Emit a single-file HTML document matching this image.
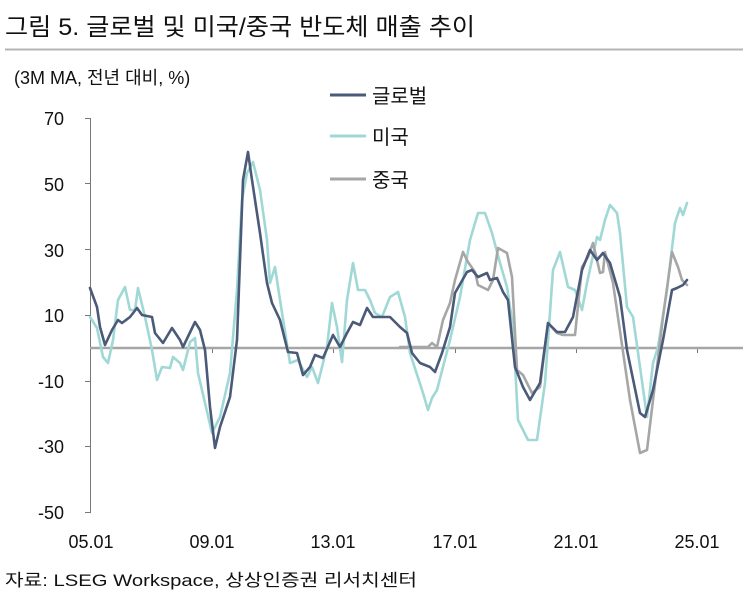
<!DOCTYPE html>
<html><head><meta charset="utf-8"><style>
body{margin:0;background:#fff}
svg text{font-family:"Liberation Sans","Noto Sans CJK KR",sans-serif;fill:#111}
</style></head><body>
<svg width="743" height="596" xmlns="http://www.w3.org/2000/svg">
<text x="5" y="35" font-size="24" textLength="470" lengthAdjust="spacingAndGlyphs">그림 5. 글로벌 및 미국/중국 반도체 매출 추이</text>
<line x1="5" y1="49.5" x2="743" y2="49.5" stroke="#b4b4b4" stroke-width="2"/>
<text x="14" y="84" font-size="18">(3M MA, 전년 대비, %)</text>
<g font-size="18" text-anchor="end">
<text x="64" y="125">70</text><text x="64" y="191">50</text><text x="64" y="257">30</text>
<text x="64" y="322">10</text><text x="64" y="388">-10</text><text x="64" y="453">-30</text><text x="64" y="519">-50</text>
</g>
<g stroke="#777" stroke-width="1">
<line x1="90.5" y1="118" x2="90.5" y2="513"/>
<line x1="85" y1="118.5" x2="90" y2="118.5"/><line x1="85" y1="183.5" x2="90" y2="183.5"/>
<line x1="85" y1="249.5" x2="90" y2="249.5"/><line x1="85" y1="315.5" x2="90" y2="315.5"/>
<line x1="85" y1="381.5" x2="90" y2="381.5"/><line x1="85" y1="446.5" x2="90" y2="446.5"/>
<line x1="85" y1="512.5" x2="90" y2="512.5"/>
<line x1="212.5" y1="348" x2="212.5" y2="353"/><line x1="333.5" y1="348" x2="333.5" y2="353"/>
<line x1="455.5" y1="348" x2="455.5" y2="353"/><line x1="576.5" y1="348" x2="576.5" y2="353"/>
<line x1="697.5" y1="348" x2="697.5" y2="353"/>
</g>
<line x1="90" y1="348" x2="743" y2="348" stroke="#a6a6a6" stroke-width="2.5"/>
<g font-size="18" text-anchor="middle">
<text x="91" y="548">05.01</text><text x="212" y="548">09.01</text><text x="333" y="548">13.01</text>
<text x="455" y="548">17.01</text><text x="576" y="548">21.01</text><text x="697" y="548">25.01</text>
</g>
<g fill="none" stroke-width="2.6" stroke-linejoin="round" stroke-linecap="round">
<polyline stroke="#a0d8d6" points="90,317 97,328 103,357 108,363 113,340 118,300 125,287 130,310 135,310 138,288 145,317 152,350 157,380 162,367 170,368 173,357 180,363 183,370 190,342 195,338 198,373 205,403 212,433 220,417 230,373 237,290 242,200 247,173 253,162 260,190 267,240 270,283 275,267 280,300 290,363 298,360 307,377 312,367 318,383 327,347 332,303 337,327 342,362 347,300 353,263 358,290 365,290 370,300 375,313 382,317 390,297 398,292 405,317 410,353 423,393 428,410 432,398 437,390 450,340 460,297 470,240 478,213 485,213 492,233 500,263 507,287 513,327 518,420 528,440 537,440 545,383 553,270 560,252 568,287 575,290 582,310 587,283 597,237 600,240 605,220 610,205 617,213 620,233 627,307 633,317 647,417 653,363 658,347 667,290 675,223 680,208 683,215 687,203"/>
<polyline stroke="#a6a6a6" points="400,347 428,347 432,343 437,347 443,320 450,303 455,280 463,252 468,262 475,272 478,285 488,290 493,280 498,248 507,253 512,277 517,370 523,375 532,393 540,387 548,323 557,333 563,335 575,335 582,267 588,257 593,243 600,273 603,272 605,252 613,283 630,400 640,453 647,450 663,317 672,252 678,267 682,280 687,285"/>
<polyline stroke="#4a5a78" points="90,288 97,307 100,327 105,345 112,330 118,320 122,323 130,317 137,308 142,315 152,317 155,333 163,343 172,328 180,340 183,347 195,322 200,330 205,350 210,407 215,448 220,427 230,397 237,340 243,180 248,152 252,180 260,233 267,283 272,303 280,320 288,352 297,353 303,375 310,367 315,355 323,358 333,335 340,347 347,333 353,322 360,325 367,308 373,317 390,317 400,327 407,333 412,353 420,363 430,367 435,372 442,353 450,327 455,293 467,272 472,270 478,277 487,273 490,280 497,278 503,292 508,300 515,367 523,387 530,400 540,383 548,323 557,332 565,332 573,317 582,270 590,250 597,260 603,253 610,263 620,297 627,350 640,413 645,417 653,390 663,340 672,290 677,288 683,285 687,280"/>
</g>
<line x1="330" y1="95" x2="366" y2="95" stroke="#4a5a78" stroke-width="3"/>
<line x1="330" y1="136" x2="366" y2="136" stroke="#a0d8d6" stroke-width="3"/>
<line x1="330" y1="179" x2="366" y2="179" stroke="#a6a6a6" stroke-width="3"/>
<g font-size="20"><text x="372" y="103">글로벌</text><text x="372" y="144">미국</text><text x="372" y="187">중국</text></g>
<text x="5" y="586" font-size="17" textLength="412" lengthAdjust="spacingAndGlyphs">자료: LSEG Workspace, 상상인증권 리서치센터</text>
</svg>
</body></html>
